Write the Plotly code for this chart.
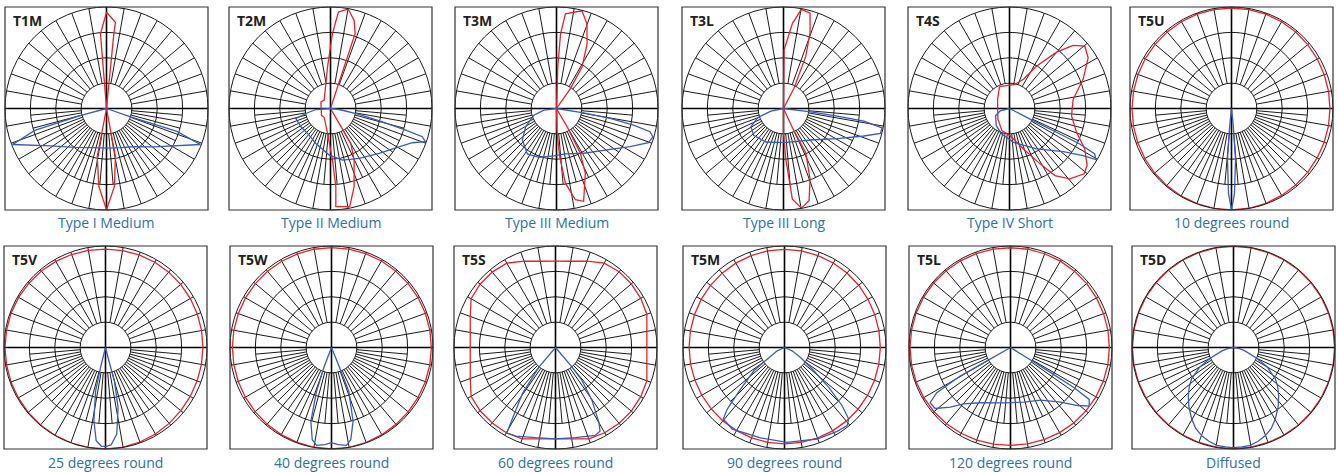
import plotly.graph_objects as go

# panel labels and captions
labels = ["T1M", "T2M", "T3M", "T3L", "T4S", "T5U",
          "T5V", "T5W", "T5S", "T5M", "T5L", "T5D"]
captions = ["Type I Medium", "Type II Medium", "Type III Medium", "Type III Long",
            "Type IV Short", "10 degrees round", "25 degrees round", "40 degrees round",
            "60 degrees round", "90 degrees round", "120 degrees round", "Diffused"]

# angles in degrees: 0 = straight down, 90 = right, 180 = up, -90 = left
# radius: 100 = outer ring
t1m_red_theta = [0, 184.6, 180, 174.1, 174.4, 0, 10.5, 5.8, 0, -5.6, -10.9, 0]
t1m_red_r = [0, 73.8, 94.8, 85.4, 73.9, 0, 48.2, 77.2, 99.7, 77.2, 48.3, 0]
t1m_blue_theta = [0, -75, -73, -69, -56, -40, -20, 0, 20, 35, 51, 69, 72, 71, 0]
t1m_blue_r = [0, 26, 74, 99, 66, 50, 41, 39, 41, 46, 60, 99, 73, 25, 0]

t2m_red_theta = [0, 161.9, 161.8, 165, 169.9, 175.3, 178.5, 184.1, 217, 235.4, 306.5, -35,
                 -6.8, 2.2, 3.9, 3.1, 11.1, 16.8, 24.6, 30.2, 30, 0]
t2m_red_r = [0, 32.8, 77.7, 89.9, 99.5, 95.4, 73.8, 41, 10.3, 11.5, 11, 10.8,
             24.8, 50.8, 77.2, 96.9, 98.6, 80.5, 55.9, 39.8, 17, 0]
t2m_blue_theta = [0, -86, -78.5, -73.9, -58.3, -42.6, -22.7, -1.6, 13.1, 29.8, 47.2, 60.8,
                  67.3, 70.7, 72.9, 74, 75.6, 78.2, 83.4, 0]
t2m_blue_r = [0, 14.4, 24.8, 35.5, 34.3, 33.4, 37.3, 45.9, 52.2, 56.7, 65.2, 77.3,
              87.4, 99, 94.7, 77.1, 52.8, 28.8, 8.6, 0]

t3m_red_theta = [0, 178.2, 176.9, 174.6, 165.4, 160.2, 154.7, 148.4, 145, 0,
                 30.2, 28.1, 24, 16.3, 11.7, 6.8, 3.9, 1.5, 0]
t3m_red_r = [0, 40.9, 73.6, 93.6, 99.5, 88.6, 70.5, 48, 23.9, 0,
             20.8, 50, 69.8, 95.3, 91.8, 74.1, 47.5, 24.5, 0]
t3m_blue_theta = [0, -82.5, -73.6, -59.4, -47.3, -32.7, -19.8, -3.2, 11.1, 31.3, 50.6, 62.6,
                  69.6, 73.5, 76.1, 77.8, 79.5, 81, 0]
t3m_blue_r = [0, 12.5, 23.2, 35.3, 45.8, 53.2, 51.1, 46.8, 45.6, 51.6, 64.3, 81.7,
              96.6, 99, 95, 77.6, 53.8, 27.1, 0]

t3l_red_theta = [0, 179.4, 174, 169.8, 164.4, 160.6, 156.9, 152.7, 0,
                 25, 26.7, 20.6, 15.5, 10.2, 5.6, 2.6, 0, 0]
t3l_red_r = [0, 57.9, 84.4, 99.3, 97.4, 78.7, 55.8, 22.8, 0,
             20.9, 48.7, 74.4, 94.3, 99.7, 89.7, 50, 23.9, 0]
t3l_blue_theta = [0, -78.1, -70.3, -60.7, -48, -27.7, 1.1, 40.8, 60.7, 71.1, 75.6, 78.9,
                  81.1, 81.9, 83, 0]
t3l_blue_r = [0, 12.7, 27.1, 36.7, 39.6, 37.3, 33.7, 41, 60.7, 83.6, 98.5, 98.9,
              80.1, 53.5, 27, 0]

t4s_red_theta = [204.4, 166.9, 154.5, 147.4, 140.1, 134.7, 129.6, 122.8, 111.6, 98.3, 83.3,
                 70.4, 61.7, 53.7, 48.8, 40.6, 34.1, 28.9, 19, 1.4, -18.9, -47.6, -127.9, -155.6]
t4s_red_r = [23.7, 24.5, 31.9, 49.7, 72.4, 88.3, 96.3, 92.2, 78, 63.4, 61.5,
             70.1, 84.2, 94.9, 97.7, 91.3, 79.8, 62.3, 42.2, 26.8, 23.1, 15.5, 14.9, 23.7]
t4s_blue_theta = [0, -76, -62.4, -37.6, -16.6, 6.7, 33.9, 51.3, 57.4, 59.4, 61.9, 63.2,
                  63.1, 62.7, 0]
t4s_blue_r = [0, 9.4, 15.5, 21.4, 26.3, 33.6, 48, 67.9, 86.1, 98.8, 95.2, 77.6,
              48.4, 22.8, 0]

round_theta = [0, 10, 20, 30, 40, 50, 60, 70, 80, 90, 100, 110, 120, 130, 140, 150, 160, 170,
               180, 190, 200, 210, 220, 230, 240, 250, 260, 270, 280, 290, 300, 310, 320, 330,
               340, 350, 360]

t5u_red_r = [100, 99.8, 99.4, 98.9, 98.4, 97.9, 97.5, 97.2, 97.1, 97.0, 97.1, 97.3, 97.6,
             98.0, 98.4, 98.7, 98.9, 99.0, 99.0, 99.0, 98.9, 98.7, 98.5, 98.3, 98.1, 98.0,
             98.0, 98.0, 98.1, 98.3, 98.6, 98.9, 99.2, 99.5, 99.7, 99.9, 100]
t5u_blue_theta = [0, -6, -4.5, -2, 0, 2, 4.5, 6, 0]
t5u_blue_r = [0, 17, 50.5, 84, 100, 84, 50.5, 17, 0]

t5v_red_r = [100, 99.7, 99.1, 98.4, 97.6, 96.9, 96.4, 96.1, 96.0, 96.0, 96.1, 96.3, 96.5,
             96.7, 96.9, 97.0, 97.0, 97.0, 97.0, 97.2, 97.5, 97.9, 98.3, 98.6, 98.8, 99.0,
             99.0, 99.0, 99.0, 99.1, 99.2, 99.4, 99.6, 99.8, 99.9, 100, 100]
t5v_blue_theta = [0, -14, -12.8, -9, -5.7, -2.5, 0, 3.3, 7.4, 11.8, 14.8, 14.3, 0]
t5v_blue_r = [0, 17.5, 44.1, 73.2, 92.3, 97.2, 97.7, 96.2, 86.1, 60.6, 34.4, 15.8, 0]

t5w_red_r = [100, 99.9, 99.6, 99.2, 98.9, 98.6, 98.5, 98.4, 98.4, 98.4, 98.4, 98.4, 98.4,
             98.4, 98.4, 98.4, 98.4, 98.4, 98.4, 98.3, 98.2, 98.1, 98.0, 97.9, 97.8, 97.7,
             97.7, 97.7, 97.7, 97.8, 98.0, 98.3, 98.7, 99.1, 99.5, 99.8, 100]
t5w_blue_theta = [0, -21.1, -18.8, -15.6, -11.8, -8.7, -3.9, 0, 3.9, 8.7, 11.8, 16.3, 21.5, 22, 0]
t5w_blue_r = [0, 20, 45.7, 75.6, 92.8, 97.5, 96, 93.8, 96, 97.5, 92.8, 75.8, 46.5, 20.2, 0]

t5s_red_r = [90, 91.4, 95.8, 97, 97.5, 97.5, 97, 95.8, 91.4, 90, 91.4, 95.8, 97,
             97.5, 97.5, 96, 90.5, 86.3, 85, 86.3, 90.5, 96, 97, 97, 96, 89.4,
             85.3, 84, 85.3, 89.4, 96, 97, 97, 97, 95.8, 91.4, 90]
t5s_blue_theta = [0, -40.3, -35.7, -29.7, -24, -12.4, 0, 12.4, 24.2, 28, 30, 34.7, 38.9, 40.3, 0]
t5s_blue_r = [0, 25, 55.6, 97, 95.6, 91, 90, 91, 95, 93.4, 85.8, 62.8, 41.3, 25, 0]

t5m_red_r = [95, 95, 94.9, 94.8, 94.7, 94.6, 94.5, 94.4, 94.4, 94.4, 94.5, 94.7, 95,
             95.4, 95.8, 96.1, 96.4, 96.6, 96.7, 96.6, 96.4, 96.0, 95.6, 95.2, 94.8, 94.4,
             94.2, 94.0, 94.0, 94.0, 94.1, 94.2, 94.4, 94.6, 94.8, 94.9, 95]
t5m_blue_theta = [0, -65.6, -56, -52.7, -46.6, -42.9, -40.6, -32.6, -14.8, 1.6, 19.6, 32.1,
                  38.7, 41.9, 44.7, 48, 51.5, 58, 66.5, 0]
t5m_blue_r = [0, 7.9, 20.6, 37.9, 59.6, 82.8, 92.8, 95.4, 92.2, 93.5, 95.7, 97.5,
              98.7, 94.7, 80.7, 58.7, 36.9, 18.6, 8.2, 0]

t5l_red_r = [96.4, 96.5, 96.6, 96.8, 97.0, 97.1, 97.2, 97.3, 97.4, 97.4, 97.5, 97.6, 97.8,
             98.0, 98.1, 98.2, 98.3, 98.3, 98.3, 98.4, 98.5, 98.6, 98.7, 98.8, 98.9, 99.0,
             99.0, 99.0, 99.0, 98.9, 98.7, 98.4, 98.0, 97.6, 97.1, 96.7, 96.4]
t5l_blue_theta = [0, -60.3, -60.5, -58.5, -55.5, -51, -45.3, -39.8, -28.6, -6.9, 13.8, 29.8,
                  42.6, 49.1, 53.3, 56.6, 57.7, 58, 58.3, 0]
t5l_blue_r = [0, 26.6, 56.9, 85.2, 96.1, 95.5, 83.5, 72.2, 62, 54.9, 55.4, 59.7,
              73.1, 87.3, 96.7, 92.9, 74.2, 46.7, 23.3, 0]

t5d_red_r = [99.6, 99.6, 99.6, 99.6, 99.6, 99.6, 99.6, 99.6, 99.6, 99.6, 99.6, 99.6, 99.6,
             99.6, 99.6, 99.6, 99.6, 99.6, 99.6, 99.6, 99.6, 99.6, 99.6, 99.6, 99.6, 99.6,
             99.6, 99.6, 99.6, 99.6, 99.6, 99.6, 99.6, 99.6, 99.6, 99.6, 99.6]
t5d_blue_theta = [0, 80, 73.6, 65, 60.1, 53.4, 48.7, 43.3, 36.6, 30.3, 25, 19.7, 14.7, 9.6, 4.8,
                  0, -4.8, -9.6, -14.7, -19.7, -25, -30.3, -36.6, -43.3, -48.7, -53.4, -60.1,
                  -65, -73.6, -80, 0]
t5d_blue_r = [0, 6, 11.8, 25.2, 38, 51.3, 57.9, 64.9, 73.6, 81.6, 88, 92.5, 95.5, 97.7, 98.3,
              98.7, 98.3, 97.7, 95.5, 92.5, 88, 81.6, 73.6, 64.9, 57.9, 51.3, 38,
              25.2, 11.8, 6, 0]

red_series = [
    (t1m_red_theta, t1m_red_r), (t2m_red_theta, t2m_red_r), (t3m_red_theta, t3m_red_r),
    (t3l_red_theta, t3l_red_r), (t4s_red_theta, t4s_red_r), (round_theta, t5u_red_r),
    (round_theta, t5v_red_r), (round_theta, t5w_red_r), (round_theta, t5s_red_r),
    (round_theta, t5m_red_r), (round_theta, t5l_red_r), (round_theta, t5d_red_r),
]
blue_series = [
    (t1m_blue_theta, t1m_blue_r), (t2m_blue_theta, t2m_blue_r), (t3m_blue_theta, t3m_blue_r),
    (t3l_blue_theta, t3l_blue_r), (t4s_blue_theta, t4s_blue_r), (t5u_blue_theta, t5u_blue_r),
    (t5v_blue_theta, t5v_blue_r), (t5w_blue_theta, t5w_blue_r), (t5s_blue_theta, t5s_blue_r),
    (t5m_blue_theta, t5m_blue_r), (t5l_blue_theta, t5l_blue_r), (t5d_blue_theta, t5d_blue_r),
]

RED = "#e4222a"
BLUE = "#3a5bb7"
GRID = "#1a1a1a"
CAPTION = "#2d6fa9"
W, H = 1338, 472
BOX = 203
box_left = [5, 229, 455, 682, 908, 1130, 4, 230, 454, 683, 909, 1132]
box_top = [7, 7, 7, 7, 7, 7, 246, 246, 246, 246, 246, 246]

# grid spokes: every 10 deg from the inner ring out, extra 5 deg spokes in the lower half
spoke_theta, spoke_r = [], []
for a in range(0, 360, 10):
    spoke_theta += [a, a, None]
    spoke_r += [25, 100, None]
for a in range(-85, 90, 10):
    spoke_theta += [a, a, None]
    spoke_r += [25, 75, None]
cross_theta = [90, 90, 270, None, 0, 0, 180]
cross_r = [100, 0, 100, None, 100, 0, 100]

fig = go.Figure()
shapes, annotations = [], []
for i in range(12):
    sub = "polar" if i == 0 else f"polar{i + 1}"
    x0 = box_left[i] / W
    x1 = (box_left[i] + BOX) / W
    y1 = 1 - box_top[i] / H
    y0 = 1 - (box_top[i] + BOX) / H
    fig.update_layout(**{sub: dict(
        domain=dict(x=[x0, x1], y=[y0, y1]),
        bgcolor="white",
        radialaxis=dict(range=[0, 100], tickvals=[25, 50, 75], showticklabels=False,
                        ticks="", showline=False, gridcolor=GRID, gridwidth=1),
        angularaxis=dict(rotation=-90, direction="counterclockwise", showgrid=False,
                         showticklabels=False, ticks="", showline=True,
                         linecolor=GRID, linewidth=1),
    )})
    fig.add_trace(go.Scatterpolar(theta=spoke_theta, r=spoke_r, mode="lines", subplot=sub,
                                  line=dict(color=GRID, width=1), hoverinfo="skip",
                                  showlegend=False))
    fig.add_trace(go.Scatterpolar(theta=cross_theta, r=cross_r, mode="lines", subplot=sub,
                                  line=dict(color="#000000", width=1.6), hoverinfo="skip",
                                  showlegend=False))
    rt, rr = red_series[i]
    fig.add_trace(go.Scatterpolar(theta=rt, r=rr, mode="lines", subplot=sub,
                                  line=dict(color=RED, width=1.3), showlegend=False))
    bt, br = blue_series[i]
    fig.add_trace(go.Scatterpolar(theta=bt, r=br, mode="lines", subplot=sub,
                                  line=dict(color=BLUE, width=1.3), showlegend=False))

    shapes.append(dict(type="rect", xref="paper", yref="paper", x0=x0, x1=x1, y0=y0, y1=y1,
                       line=dict(color="#333333", width=1.2)))
    annotations.append(dict(text=labels[i], xref="paper", yref="paper",
                            x=(box_left[i] + 6) / W, y=1 - (box_top[i] + 13) / H,
                            xanchor="left", yanchor="middle", showarrow=False,
                            font=dict(family="Open Sans", size=14, weight="bold",
                                      color="#231f20")))
    cap_y = box_top[i] + BOX + (13 if i < 6 else 13)
    annotations.append(dict(text=captions[i], xref="paper", yref="paper",
                            x=(box_left[i] + BOX / 2) / W, y=1 - cap_y / H,
                            xanchor="center", yanchor="middle", showarrow=False,
                            font=dict(family="Open Sans", size=14, color=CAPTION)))

fig.update_layout(width=W, height=H, margin=dict(l=0, r=0, t=0, b=0),
                  paper_bgcolor="white", shapes=shapes, annotations=annotations)

fig.write_html("out.html", config={"displayModeBar": False},
               post_script="document.body.style.margin='0';")
